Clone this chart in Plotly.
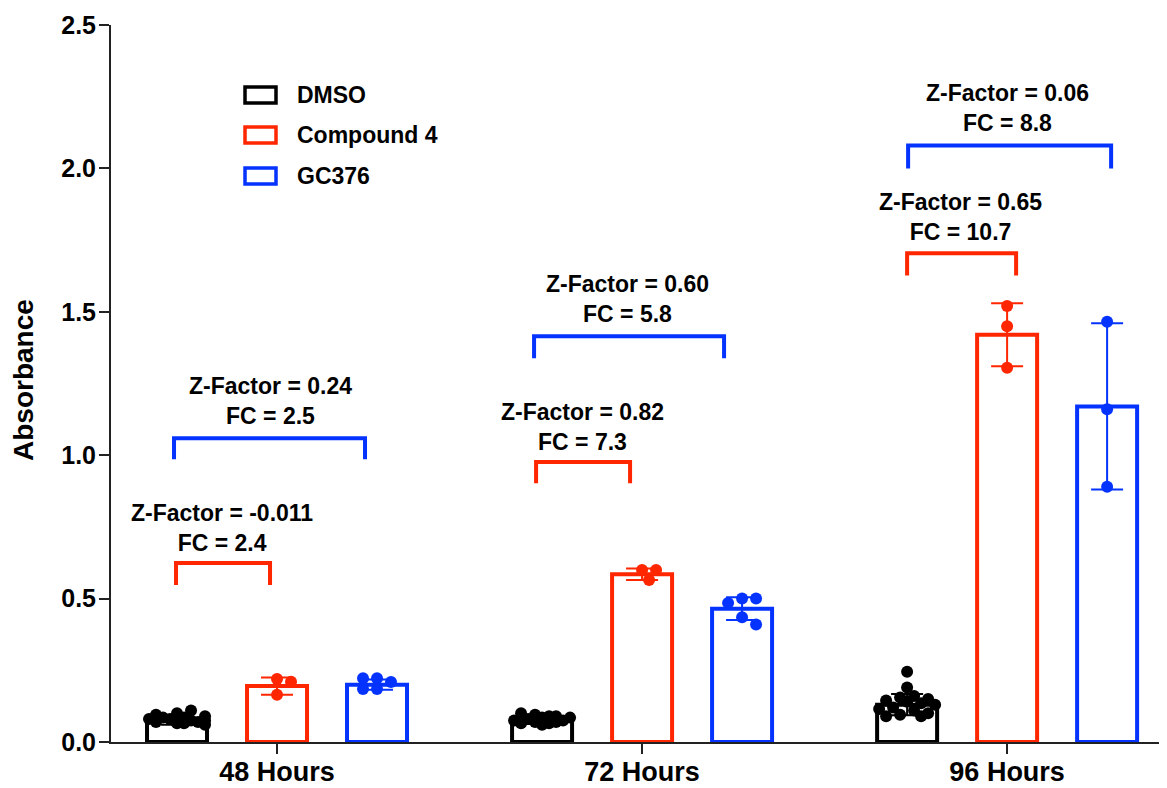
import math
import plotly.graph_objects as go

# ---------------- data ----------------
groups = ["48 Hours", "72 Hours", "96 Hours"]
series_names = ["DMSO", "Compound 4", "GC376"]

dmso_mean = [0.075, 0.075, 0.13]
dmso_sd = [0.015, 0.012, 0.037]
cmpd_mean = [0.195, 0.585, 1.42]
cmpd_sd = [0.03, 0.02, 0.11]
gc_mean = [0.20, 0.465, 1.17]
gc_sd = [0.018, 0.04, 0.29]

dmso_pts = [
    [0.065, 0.075, 0.085, 0.09, 0.08, 0.07, 0.06, 0.085, 0.10, 0.11, 0.095, 0.08, 0.07, 0.065, 0.085, 0.075],
    [0.06, 0.07, 0.08, 0.085, 0.075, 0.065, 0.09, 0.095, 0.10, 0.085, 0.075, 0.07, 0.065, 0.08, 0.09, 0.075],
    [0.245, 0.19, 0.16, 0.155, 0.15, 0.145, 0.14, 0.135, 0.13, 0.12, 0.115, 0.11, 0.10, 0.095, 0.09, 0.09],
]
cmpd_pts = [[0.22, 0.21, 0.165], [0.60, 0.60, 0.565], [1.52, 1.45, 1.305]]
gc_pts = [[0.222, 0.209, 0.222, 0.185, 0.185], [0.50, 0.50, 0.485, 0.435, 0.41], [1.465, 1.16, 0.89]]

z_factor_cmpd = ["-0.011", "0.82", "0.65"]
fc_cmpd = ["2.4", "7.3", "10.7"]
z_factor_gc = ["0.24", "0.60", "0.06"]
fc_gc = ["2.5", "5.8", "8.8"]

# ---------------- styling / layout constants ----------------
COLORS = ["#000000", "#FF2600", "#0433FF"]
FONT = "Liberation Sans, Arial, Helvetica, sans-serif"
PAGE_OFF = 8                     # default body margin of the html page
W, H = 1167 - PAGE_OFF, 788 - PAGE_OFF
ML, MR, MT = 111 - PAGE_OFF, 0, 25 - PAGE_OFF
MB = PAGE_OFF + H - 742
XR = [-0.4548, 2.438]
YR = [0, 2.5]
PW, PH = W - ML - MR, H - MT - MB
XPX = PW / (XR[1] - XR[0])   # px per x unit
YPX = PH / (YR[1] - YR[0])   # px per y unit
OFFSET = 100 / XPX
BAR_W = 60 / XPX

means = [dmso_mean, cmpd_mean, gc_mean]
sds = [dmso_sd, cmpd_sd, gc_sd]
pts = [dmso_pts, cmpd_pts, gc_pts]
offs = [-OFFSET, 0.0, OFFSET]


def swarm(vals, d=12, step=7, maxoff=32):
    placed, out = [], []
    cands = [0]
    k = 1
    while k * step <= maxoff:
        cands += [k * step, -k * step]
        k += 1
    for v in vals:
        y = v * YPX
        chosen, bestc, bestd = None, 0, -1
        for c in cands:
            dmin = min((math.hypot(c - px, y - py) for px, py in placed), default=1e9)
            if dmin >= 0.85 * d:
                chosen = c
                break
            if dmin > bestd:
                bestd, bestc = dmin, c
        if chosen is None:
            chosen = bestc
        placed.append((chosen, y))
        out.append(chosen / XPX)
    return out


fig = go.Figure()

for s in range(3):
    fig.add_trace(go.Bar(
        x=[g + offs[s] for g in range(len(groups))],
        y=means[s],
        width=BAR_W,
        name=series_names[s],
        marker=dict(color="rgba(255,255,255,0)", line=dict(color=COLORS[s], width=4)),
        error_y=dict(type="data", array=sds[s], visible=True, color=COLORS[s], thickness=2, width=16),
        showlegend=False,
    ))

for s in range(3):
    xs, ys = [], []
    for g in range(len(groups)):
        jit = swarm(pts[s][g])
        xs += [g + offs[s] + j for j in jit]
        ys += pts[s][g]
    fig.add_trace(go.Scatter(
        x=xs, y=ys, mode="markers",
        marker=dict(color=COLORS[s], size=12, line=dict(width=0)),
        showlegend=False, hoverinfo="skip",
    ))


def px_x(dpx, g):
    return g + dpx / XPX


# brackets: (group, series, left px off, right px off, top y, leg y, text px off, text y)
brackets = [
    (0, 1, -101, -7, 0.624, 0.547, -55, 0.746, z_factor_cmpd[0], fc_cmpd[0]),
    (0, 2, -103, 88, 1.059, 0.986, -7, 1.188, z_factor_gc[0], fc_gc[0]),
    (1, 1, -106, -12, 0.976, 0.902, -60, 1.098, z_factor_cmpd[1], fc_cmpd[1]),
    (1, 2, -108, 82, 1.415, 1.338, -15, 1.545, z_factor_gc[1], fc_gc[1]),
    (2, 1, -100, 9, 1.704, 1.627, -47, 1.831, z_factor_cmpd[2], fc_cmpd[2]),
    (2, 2, -99, 104, 2.080, 2.0, 0, 2.211, z_factor_gc[2], fc_gc[2]),
]
for g, s, l, r, top, leg, tx, ty, zf, fc in brackets:
    x0, x1 = px_x(l, g), px_x(r, g)
    fig.add_shape(type="path",
                  path=f"M {x0} {leg} L {x0} {top} L {x1} {top} L {x1} {leg}",
                  xref="x", yref="y",
                  line=dict(color=COLORS[s], width=4))
    fig.add_annotation(x=px_x(tx, g), y=ty, xref="x", yref="y",
                       text=f"Z-Factor = {zf}<br>FC = {fc}",
                       showarrow=False, xanchor="center", yanchor="middle",
                       font=dict(family=FONT, size=23, color="black", weight="bold"))


def paper_x(screen_px):
    return (screen_px - PAGE_OFF - ML) / PW


def paper_y(screen_px):
    return (H - MB - (screen_px - PAGE_OFF)) / PH


# custom legend (rectangles + labels)
leg_rows_px = [95, 135, 176]
for s, ypx in enumerate(leg_rows_px):
    fig.add_shape(type="rect", xref="paper", yref="paper",
                  x0=paper_x(245), x1=paper_x(276),
                  y0=paper_y(ypx + 8), y1=paper_y(ypx - 8),
                  line=dict(color=COLORS[s], width=3.5), fillcolor="white")
    fig.add_annotation(xref="paper", yref="paper",
                       x=paper_x(295), y=paper_y(ypx),
                       text=series_names[s], showarrow=False, xanchor="left", yanchor="middle",
                       font=dict(family=FONT, size=23, color="black", weight="bold"))

# y-axis title
fig.add_annotation(xref="paper", yref="paper", x=paper_x(23), y=paper_y(380),
                   text="Absorbance", textangle=-90, showarrow=False,
                   xanchor="center", yanchor="middle",
                   font=dict(family=FONT, size=28, color="black", weight="bold"))

fig.update_layout(
    width=W, height=H,
    margin=dict(l=ML, r=MR, t=MT, b=MB, autoexpand=False),
    plot_bgcolor="white", paper_bgcolor="white",
    barmode="overlay",
    showlegend=False,
    template=None,
)
fig.update_xaxes(
    range=XR, tickvals=list(range(len(groups))), ticktext=groups,
    showline=True, linecolor="#222", linewidth=2,
    ticks="outside", ticklen=10, tickwidth=1.5, tickcolor="#222",
    ticklabelstandoff=-5,
    showgrid=False, zeroline=False, automargin=False,
    tickfont=dict(family=FONT, size=27, color="black", weight="bold"),
)
fig.update_yaxes(
    range=YR, tickvals=[0, 0.5, 1.0, 1.5, 2.0, 2.5], tickformat=".1f",
    showline=True, linecolor="#222", linewidth=2,
    ticks="outside", ticklen=10, tickwidth=1.5, tickcolor="#222",
    ticklabelstandoff=-2,
    showgrid=False, zeroline=False, automargin=False,
    tickfont=dict(family=FONT, size=25, color="black", weight="bold"),
)

fig.write_html("out.html")
